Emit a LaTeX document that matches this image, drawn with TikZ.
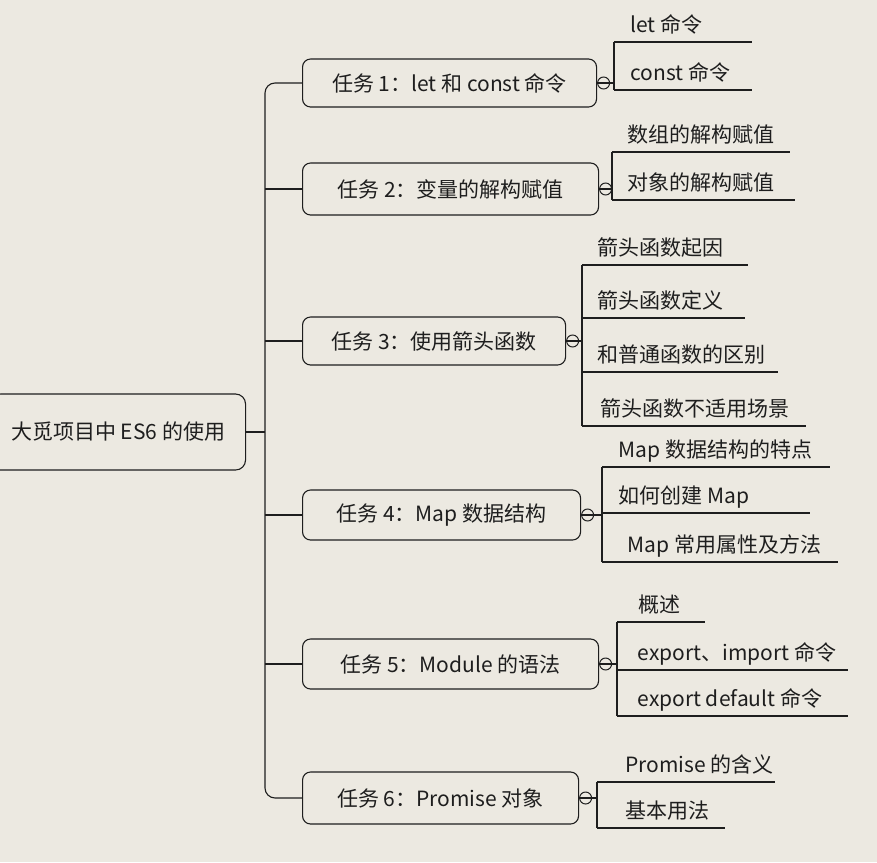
\documentclass[tikz,border=0pt]{standalone}
\usepackage{fontspec}
\setmainfont{Noto Sans CJK SC}
\usetikzlibrary{positioning}
\definecolor{paper}{RGB}{236,233,225}
\definecolor{ink}{RGB}{30,30,30}

\begin{document}
\begin{tikzpicture}[x=1pt, y=-1pt, line width=1.1pt, color=ink,
    every node/.style={font=\fontsize{21}{25}\selectfont},
    task/.style={draw, rounded corners=8pt, minimum height=48pt, inner sep=0pt, anchor=west},
    leaf/.style={anchor=base west, inner sep=0pt},
    knob/.style={draw, circle, minimum size=12pt, inner sep=0pt, line width=1pt}]
    % paper
    \fill[paper] (0,0) rectangle (877,862);
    \useasboundingbox (0,0) rectangle (877,862);

    % root and trunk
    \node[task, minimum width=255pt, minimum height=76pt, rounded corners=10pt] (root) at (-10,432) {大觅项目中 ES6 的使用};
    \coordinate (trunk) at (265,0);

    % task boxes
    \node[task, minimum width=294pt] (t1) at (302,83) {任务 1：let 和 const 命令};
    \node[task, minimum width=296pt, minimum height=52pt] (t2) at (302,189) {任务 2：变量的解构赋值};
    \node[task, minimum width=263pt] (t3) at (302,341) {任务 3：使用箭头函数};
    \node[task, minimum width=278pt, minimum height=50pt] (t4) at (302,515) {任务 4：Map 数据结构};
    \node[task, minimum width=296pt, minimum height=50pt] (t5) at (302,664) {任务 5：Module 的语法};
    \node[task, minimum width=276pt, minimum height=52pt] (t6) at (302,798) {任务 6：Promise 对象};

    \draw (root.east) -- (root.east -| trunk);
    \draw[rounded corners=10pt] (t1.west) -- (t1.west -| trunk) -- (t6.west -| trunk) -- (t6.west);
    \foreach \t in {t2,t3,t4,t5}
      \draw (\t.west) -- (\t.west -| trunk);

    % collapse knobs and brackets
    \foreach \t/\bx/\ya/\yb in {t1/614/42/90, t2/612/152/200, t3/582/265/426,
                                t4/602/467/562, t5/617/622/716, t6/597/782/828} {
      \node[knob, right=0pt of \t] (k\t) {};
      \coordinate (b\t) at (\bx,\ya);
      \draw (\t.east) -- (\t.east -| b\t);
      \draw (\bx,\ya) -- (\bx,\yb);
    }

    % leaves: name/bracket x/underline y/end x/text x/text
    \foreach \n/\bx/\uy/\ux/\tx/\txt in {
        l11/614/42/752/630/let 命令,
        l12/614/90/752/630/const 命令,
        l21/612/152/790/627/数组的解构赋值,
        l22/612/200/795/627/对象的解构赋值,
        l31/582/265/748/597/箭头函数起因,
        l32/582/318/745/597/箭头函数定义,
        l33/582/372/778/597/和普通函数的区别,
        l34/582/426/806/600/箭头函数不适用场景,
        l41/602/467/830/618/Map 数据结构的特点,
        l42/602/513/810/618/如何创建 Map,
        l43/602/562/838/627/Map 常用属性及方法,
        l51/617/622/705/638/概述,
        l52/617/670/848/637/export、import 命令,
        l53/617/716/848/637/export default 命令,
        l61/597/782/775/625/Promise 的含义,
        l62/597/828/725/625/基本用法} {
      \node[leaf] (\n) at (\tx,\uy-10) {\txt};
      \draw (\bx,\uy) -- (\ux,\uy);
    }
\end{tikzpicture}
\end{document}
